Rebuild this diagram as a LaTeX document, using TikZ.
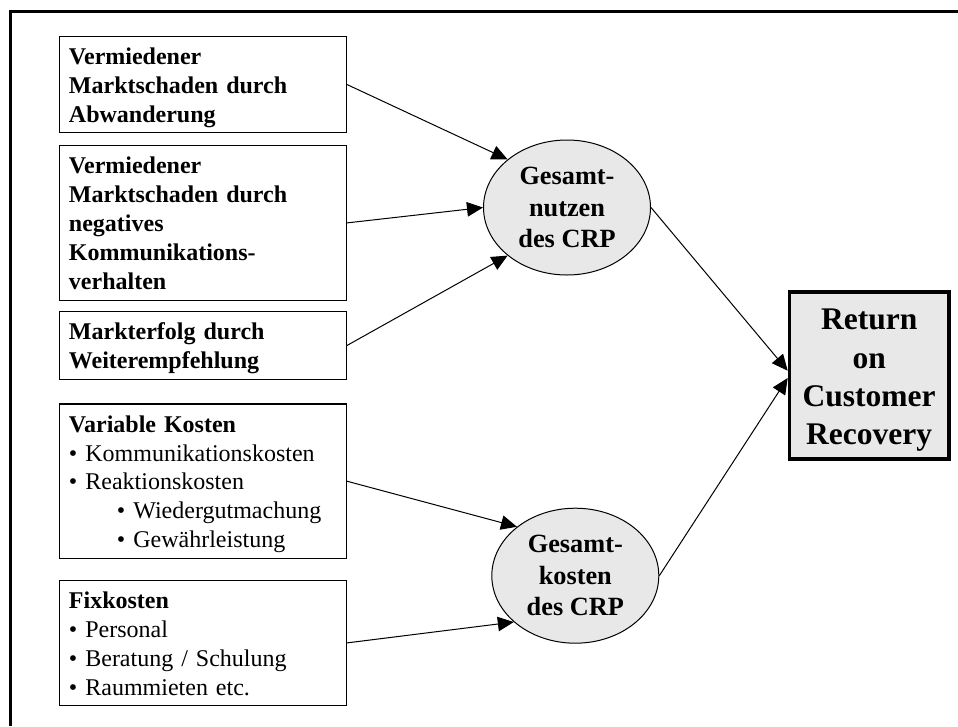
\documentclass[tikz,border=0pt]{standalone}
\usepackage{fontspec}
\setmainfont{Liberation Serif}
\usetikzlibrary{arrows.meta,shapes.geometric}
\definecolor{shade}{RGB}{232,232,232}
\tikzset{
  box/.style={draw=black, line width=1.2pt, rectangle, minimum width=287pt, inner sep=0pt},
  txt/.style={anchor=north west, inner sep=0pt, align=left, text width=272pt,
    font=\fontsize{24}{28.8}\selectfont},
  ell/.style={ellipse, draw=black, fill=shade, line width=1pt, minimum width=167pt,
    minimum height=135pt, inner sep=0pt, align=center,
    font=\fontsize{26.3}{31.6}\selectfont\bfseries},
  result/.style={rectangle, draw=black, fill=shade, line width=3.5pt, minimum width=159.5pt,
    minimum height=167pt, inner sep=0pt, align=center,
    font=\fontsize{31.5}{38.3}\selectfont\bfseries},
  arr/.style={draw=black, line width=1pt, -{Triangle[length=16pt,width=14.5pt]}},
  frame/.style={draw=black, line width=3pt}
}
\begin{document}
\begin{tikzpicture}[x=1pt,y=-1pt]
\useasboundingbox (0,0) rectangle (958,726);
\draw[frame] (10.3,726) |- (958,11);

% left boxes
\node[box, minimum height=96.4pt] (b1) at (202.85,84.5) {};
\node[box, minimum height=154.5pt] (b2) at (202.85,222.9) {};
\node[box, minimum height=67.8pt] (b3) at (202.85,345.5) {};
\node[box, minimum height=154.5pt] (b4) at (202.85,481.2) {};
\node[box, minimum height=125.1pt] (b5) at (202.85,642.9) {};

\node[txt] (t1) at ([xshift=10pt,yshift=-8.5pt]b1.north west)
  {\strut\bfseries Vermiedener\\Marktschaden durch\\Abwanderung};
\node[txt] (t2) at ([xshift=10pt,yshift=-8.5pt]b2.north west)
  {\strut\bfseries Vermiedener\\Marktschaden durch\\negatives\\Kommunikations-\\verhalten};
\node[txt] (t3) at ([xshift=10pt,yshift=-8.5pt]b3.north west)
  {\strut\bfseries Markterfolg durch\\Weiterempfehlung};
\node[txt] (t4) at ([xshift=10pt,yshift=-8.5pt]b4.north west)
  {\strut{\bfseries Variable Kosten}\\%
   • Kommunikationskosten\\%
   • Reaktionskosten\\%
   \hspace*{48pt}• Wiedergutmachung\\%
   \hspace*{48pt}• Gewährleistung};
\node[txt] (t5) at ([xshift=10pt,yshift=-8.5pt]b5.north west)
  {\strut{\bfseries Fixkosten}\\%
   • Personal\\%
   • Beratung / Schulung\\%
   • Raummieten etc.};

% ellipses
\node[ell] (e1) at (567,207.5) {Gesamt-\\nutzen\\des CRP};
\node[ell] (e2) at (575.3,575.7) {Gesamt-\\kosten\\des CRP};

% result
\node[result] (r) at (869.2,375.3) {\rule{0pt}{31pt}Return\\on\\Customer\\Recovery};

% connectors
\draw[arr] (b1.east) -- (e1.141);
\draw[arr] (b2.east) -- (e1.180);
\draw[arr] (b3.east) -- (e1.219);
\draw[arr] (b4.east) -- (e2.140);
\draw[arr] (b5.east) -- (e2.217);
\draw[arr] (e1.east) -- ([yshift=4.6pt]r.west);
\draw[arr] (e2.east) -- ([yshift=-2.7pt]r.west);
\end{tikzpicture}
\end{document}
